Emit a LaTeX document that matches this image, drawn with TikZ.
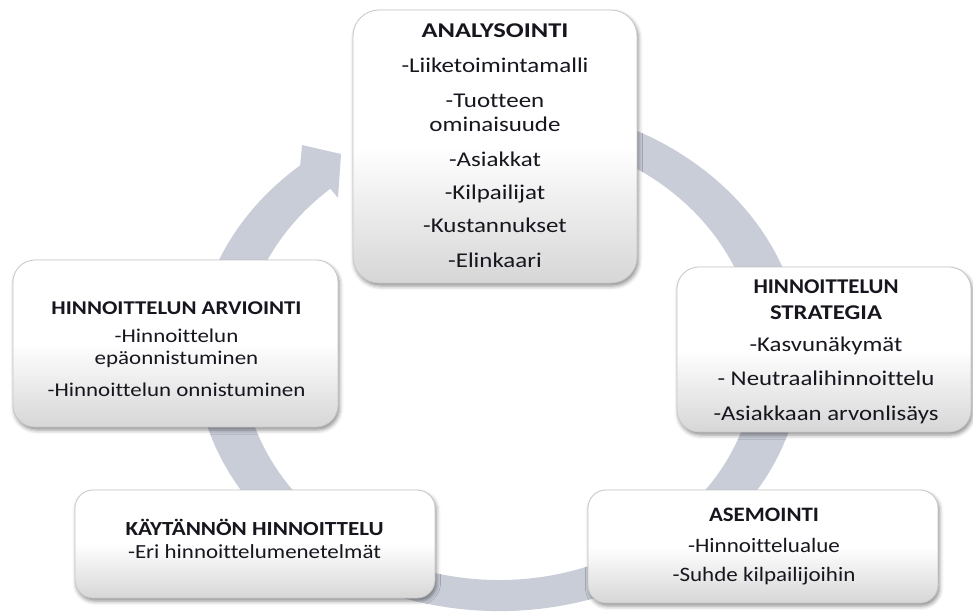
\documentclass[tikz,border=0pt]{standalone}
\usepackage{fontspec}
\setmainfont{Carlito}[Ligatures=NoCommon]
\usepackage{graphicx}
\usetikzlibrary{shadows.blur}

\definecolor{ringc}{RGB}{201,205,216}
\definecolor{txt}{RGB}{22,22,30}

% horizontal fitting: \setfit measures a reference line against a target width,
% \sx then stretches any line by that same factor; \fitt fits one bold title line
\newlength\reflen
\newcommand\setfit[2]{\settowidth\reflen{#2}\pgfmathsetmacro\fitfactor{#1/\reflen}}
\newcommand\sx[1]{\scalebox{\fitfactor}[1]{#1}}
\newcommand\fitt[2]{{\settowidth\reflen{\textbf{#2}}\pgfmathsetmacro\tfactor{#1/\reflen}\scalebox{\tfactor}[1]{\textbf{#2}}}}

\tikzset{
  card/.style={rounded corners=#1, draw=black!22, line width=0.8pt,
    top color=white, bottom color=black!16, middle color=white,
    blur shadow={shadow xshift=1.5pt, shadow yshift=-3pt,
      shadow blur radius=4pt, shadow opacity=45},
    inner sep=0pt},
  card/.default=20pt,
  cardtext/.style={text=txt, inner sep=0pt},
}

\begin{document}
\begin{tikzpicture}[x=1pt, y=-1pt]
\useasboundingbox (0,0) rectangle (973,613);

% circular arrow running clockwise behind the cards
\fill[ringc] (551.6,106.9)
  arc[start angle=280, end angle=589, x radius=303, y radius=254]
  -- (302,145) -- (341,154) -- (338,198) -- (330.4,188.7)
  arc[start angle=589, end angle=280, x radius=257, y radius=223]
  -- cycle;

% cards
\node[card=26pt, minimum width=284pt, minimum height=273pt] (analyysi) at (495,146.5) {};
\node[card=22pt, minimum width=294pt, minimum height=165pt] (strategia) at (824,349.5) {};
\node[card=22pt, minimum width=325pt, minimum height=167pt] (arviointi) at (175.5,343.5) {};
\node[card=18pt, minimum width=360pt, minimum height=108pt] (kaytanto) at (255,544) {};
\node[card=18pt, minimum width=350pt, minimum height=113pt] (asemointi) at (763,546.5) {};

% card texts
\node[cardtext] (analyysiteksti) at (495,148) {\fontsize{21}{24}\selectfont
  \setfit{187}{-Liiketoimintamalli}%
  \begin{tabular}{@{}c@{}}
  \fitt{147}{ANALYSOINTI}\\[11pt]
  \sx{-Liiketoimintamalli}\\[11pt]
  \sx{-Tuotteen}\\
  \sx{ominaisuude}\\[11pt]
  \sx{-Asiakkat}\\[9pt]
  \sx{-Kilpailijat}\\[9pt]
  \sx{-Kustannukset}\\[11pt]
  \sx{-Elinkaari}
  \end{tabular}};

\node[cardtext] (strategiateksti) at (826,351.5) {\fontsize{21}{25}\selectfont
  \setfit{225}{-Asiakkaan arvonlisäys}%
  \begin{tabular}{@{}c@{}}
  \fitt{145}{HINNOITTELUN}\\[1pt]
  \fitt{112}{STRATEGIA}\\[7pt]
  \sx{-Kasvunäkymät}\\[9pt]
  \sx{- Neutraalihinnoittelu}\\[10pt]
  \sx{-Asiakkaan arvonlisäys}
  \end{tabular}};

\node[cardtext] (arviointiteksti) at (176.5,351) {\fontsize{19.5}{22}\selectfont
  \setfit{258}{-Hinnoittelun onnistuminen}%
  \begin{tabular}{@{}c@{}}
  \fitt{250}{HINNOITTELUN ARVIOINTI}\\[6pt]
  \sx{-Hinnoittelun}\\
  \sx{epäonnistuminen}\\[10pt]
  \sx{-Hinnoittelun onnistuminen}
  \end{tabular}};

\node[cardtext] (kaytantoteksti) at (254.5,542.5) {\fontsize{20}{22}\selectfont
  \setfit{253}{-Eri hinnoittelumenetelmät}%
  \begin{tabular}{@{}c@{}}
  \fitt{258}{KÄYTÄNNÖN HINNOITTELU}\\[1pt]
  \sx{-Eri hinnoittelumenetelmät}
  \end{tabular}};

\node[cardtext] (asemointiteksti) at (764,547) {\fontsize{20.5}{24}\selectfont
  \setfit{183}{-Suhde kilpailijoihin}%
  \begin{tabular}{@{}c@{}}
  \fitt{110}{ASEMOINTI}\\[7pt]
  \sx{-Hinnoittelualue}\\[5pt]
  \sx{-Suhde kilpailijoihin}
  \end{tabular}};
\end{tikzpicture}
\end{document}
